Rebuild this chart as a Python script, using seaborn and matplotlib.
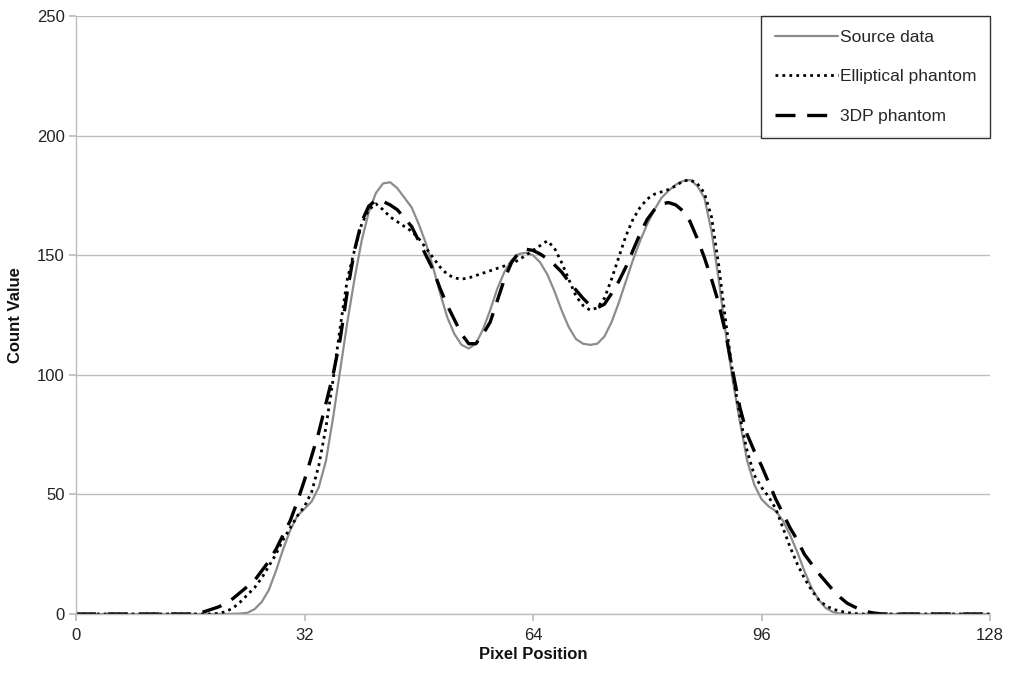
import numpy as np
import pandas as pd
import matplotlib
matplotlib.use("Agg")
import matplotlib.pyplot as plt
import seaborn as sns

pixel_position = list(range(0, 129))

source_data = [0]*22 + [
    0.1, 0.2, 0.5, 2, 5, 10, 18, 27, 35, 41,      # 22-31
    44, 47, 53, 64, 82, 102, 122, 140, 156, 168,  # 32-41
    176, 180, 180.5, 178, 174, 170, 163, 155, 145, 134,  # 42-51
    124, 117, 112.5, 111, 113, 119, 127, 136, 143, 148,  # 52-61
    150.5, 151, 150, 147, 142, 135, 127, 120, 115, 113,  # 62-71
    112.5, 113, 116, 122, 130, 139, 148, 156, 163, 169,  # 72-81
    174, 177, 179.5, 181, 181.5, 179, 174, 160, 140, 117,  # 82-91
    97, 80, 64, 54, 48, 45, 43, 39, 33, 26,        # 92-101
    18, 11, 6, 2.5, 0.8, 0.2] + [0]*21             # 102-107, 108-128

elliptical_phantom = [0]*20 + [
    0.3, 1, 2.5, 5, 8, 11, 15, 20, 25, 31,        # 20-29
    36, 41, 45, 51, 62, 78, 98, 120, 140, 152,    # 30-39
    163, 169, 171.5, 169, 166, 164, 162, 160, 157, 153,  # 40-49
    149, 145, 142, 140.5, 140, 140.5, 141.5, 142.5, 143.5, 144.5,  # 50-59
    145.5, 146.5, 148, 150, 152, 154, 156, 153, 147, 140,  # 60-69
    133, 129, 127, 128, 132, 140, 149, 158, 165, 170,  # 70-79
    173.5, 175.5, 176.5, 177.5, 179, 181, 181.5, 180, 176, 166,  # 80-89
    146, 122, 100, 82, 68, 58, 53, 49, 44, 36,    # 90-99
    28, 21, 15, 10, 6, 3.5, 2, 1.2, 0.6, 0.2] + [0]*19   # 100-109, 110-128

phantom_3dp = [0]*17 + [
    0.3, 1, 2, 3, 4.5, 6.5, 9, 11.5, 14, 18,      # 17-26
    22, 27, 33, 39, 47, 56, 66, 76, 88, 100,      # 27-36
    115, 135, 152, 164, 170.5, 173, 172.5, 171, 169, 165.5,  # 37-46
    162, 156, 150, 144, 136, 129, 123, 117, 113, 113,  # 47-56
    117, 122, 131, 140, 147, 151, 152.5, 152, 150.5, 148.5,  # 57-66
    146, 143, 139, 135.5, 132, 129, 128, 129.5, 134, 139,  # 67-76
    145, 152, 159, 165, 169, 171.5, 172, 171, 168.5, 164,  # 77-86
    157, 149, 140, 130, 117, 101, 86, 75, 68, 62,  # 87-96
    55, 48, 42, 36, 31, 25, 21, 17, 13.5, 10,     # 97-106
    7, 4.5, 3, 1.7, 0.8, 0.3] + [0]*16             # 107-112, 113-128

series_names = ["Source data", "Elliptical phantom", "3DP phantom"]
x_ticks = [0, 32, 64, 96, 128]
y_ticks = [0, 50, 100, 150, 200, 250]

sns.set_theme(style="white")
plt.rcParams['font.family'] = ['Liberation Sans', 'DejaVu Sans']

fig = plt.figure(figsize=(10.11, 6.73), dpi=100)
ax = fig.add_axes([76/1011, 1-614/673, 914/1011, 598/673])

df = pd.DataFrame({
    "x": pixel_position * 3,
    "y": source_data + elliptical_phantom + phantom_3dp,
    "series": [series_names[0]]*129 + [series_names[1]]*129 + [series_names[2]]*129,
})

styles = {
    series_names[0]: dict(color="#8c8c8c", lw=1.6, ls="-"),
    series_names[1]: dict(color="black", lw=2.0, ls=(0, (1, 1.5))),
    series_names[2]: dict(color="black", lw=2.4, ls=(0, (6, 3.5))),
}
for name in series_names:
    sub = df[df["series"] == name]
    st = styles[name]
    sns.lineplot(data=sub, x="x", y="y", ax=ax, color=st["color"], linewidth=st["lw"],
                 linestyle=st["ls"], label=name, estimator=None, sort=False)

ax.set_xlim(0, 128)
ax.set_ylim(0, 250)
ax.set_xticks(x_ticks)
ax.set_yticks(y_ticks)
ax.yaxis.grid(True, color="#bdbdbd", linewidth=1.0)
ax.xaxis.grid(False)
for s in ["right", "top"]:
    ax.spines[s].set_visible(False)
for s in ["bottom", "left"]:
    ax.spines[s].set_color("#bdbdbd")
    ax.spines[s].set_linewidth(1.0)
ax.tick_params(axis="x", which="both", bottom=True, length=5, color="#bdbdbd",
               labelsize=12, pad=5, labelcolor="#222222")
ax.tick_params(axis="y", left=True, length=5, color="#bdbdbd", labelsize=12, pad=3,
               labelcolor="#222222")
ax.set_xlabel("Pixel Position", fontsize=12, fontweight="bold", labelpad=3, color="#111111")
ax.set_ylabel("Count Value", fontsize=12, fontweight="bold", labelpad=10, color="#111111")

leg = ax.legend(loc="upper right", bbox_to_anchor=(1.0, 1.0), frameon=True, fancybox=False,
                fontsize=12.5, handlelength=3.6, handletextpad=0.1, labelspacing=1.4,
                borderpad=0.8, borderaxespad=0.0)
leg.get_frame().set_edgecolor("black")
leg.get_frame().set_linewidth(1.0)

fig.savefig("out.png", dpi=100)
